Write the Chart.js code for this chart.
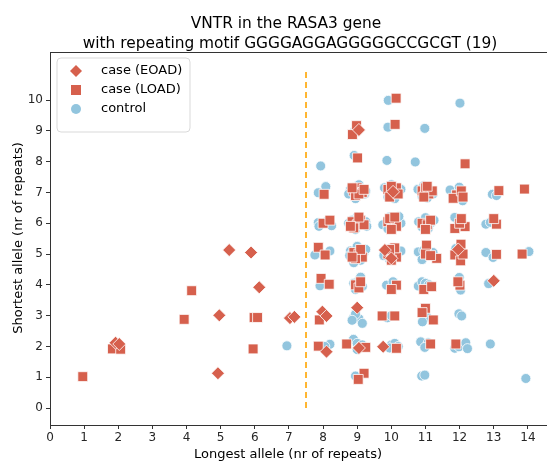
<!DOCTYPE html>
<html>
<head>
<meta charset="utf-8">
<script src="https://cdn.jsdelivr.net/npm/chart.js@4/dist/chart.umd.min.js"></script>
<style>
html,body{margin:0;padding:0;background:#fff;}
canvas{display:block;}
</style>
</head>
<body>
<canvas id="c" width="547" height="462"></canvas>
<script>
// ---- tick labels ----
const xTicks = [0,1,2,3,4,5,6,7,8,9,10,11,12,13,14];
const yTicks = [0,1,2,3,4,5,6,7,8,9,10];

// ---- series labels ----
const seriesLabels = ["case (EOAD)", "case (LOAD)", "control"];

// ---- case (EOAD): [longest, shortest] (jittered as in the figure) ----
const eoad = [
  [5.25,5.13],[5.89,5.05],[6.13,3.92],[4.96,3.01],[7.03,2.92],[7.16,2.96],
  [1.92,2.12],[2.03,2.08],[4.92,1.13],
  [7.98,3.13],[8.10,2.99],[8.10,1.83],
  [9.05,9.03],[9.00,3.26],[9.05,1.95],
  [9.81,5.13],[10.00,4.86],[9.76,1.99],[10.05,7.02],
  [11.96,5.15],[13.00,4.13]
];

// ---- case (LOAD) ----
const load = [
  [0.96,1.02],[1.83,1.92],[2.07,1.91],[3.93,2.88],[4.15,3.81],[5.98,2.94],[6.08,2.94],[5.95,1.92],
  [8.03,6.94],[8.00,6.00],[8.20,6.10],[7.86,5.22],[8.06,4.97],[7.94,4.21],[8.18,4.02],[7.89,2.86],[7.86,2.01],
  [8.98,9.17],[8.86,8.88],[9.01,8.12],
  [8.90,7.05],[9.00,7.15],[9.15,7.00],[8.95,6.90],[9.05,6.95],[9.20,7.10],[8.85,7.15],
  [8.85,6.05],[9.00,5.95],[9.10,6.10],[9.20,5.95],[8.90,5.85],[9.05,6.20],[8.80,5.90],
  [8.90,5.05],[9.05,5.00],[9.15,4.90],[8.95,4.85],[9.10,5.15],[8.85,4.90],
  [8.95,4.00],[9.05,3.90],[9.10,4.10],
  [8.69,2.08],[9.25,1.97],[9.20,1.13],[9.03,0.93],
  [10.14,10.06],[10.11,9.21],
  [9.90,7.10],[10.05,7.00],[10.15,7.15],[9.95,6.85],[10.20,6.95],[10.00,7.20],
  [9.90,6.05],[10.05,6.00],[10.15,5.90],[9.95,6.15],[10.10,6.20],[10.00,5.80],
  [9.90,5.00],[10.05,5.05],[10.15,4.90],[10.00,4.80],[10.10,5.20],[9.95,5.15],
  [10.15,3.99],[10.00,3.85],[9.73,2.99],[10.10,2.99],[10.15,1.94],
  [10.90,7.05],[11.00,7.15],[11.10,6.95],[11.20,7.05],[10.95,6.85],[11.05,7.20],
  [10.90,6.00],[11.05,5.95],[11.15,6.10],[11.00,5.80],
  [11.03,5.29],[11.33,4.86],[11.00,5.00],[11.15,4.95],
  [10.95,3.85],[11.18,3.94],[11.00,3.24],[11.23,2.86],[10.90,3.10],[11.15,2.08],
  [12.16,7.93],
  [11.91,6.92],[11.81,6.81],[12.05,7.05],[12.10,6.85],
  [11.86,5.83],[12.16,5.89],[12.00,6.00],[12.05,6.15],
  [12.04,5.32],[11.86,4.97],[12.03,4.78],[12.10,5.00],
  [12.01,3.99],[11.95,4.10],[11.89,2.08],
  [13.15,7.06],[13.08,5.97],[13.00,6.15],[13.08,4.99],
  [13.90,7.11],[13.83,5.00]
];

// ---- control ----
const control = [
  [6.94,2.02],
  [7.93,7.86],[8.08,7.19],[7.86,6.99],
  [7.86,6.02],[7.88,5.90],[8.10,6.05],[8.25,5.92],
  [7.96,5.02],[7.76,4.97],[8.20,5.10],[7.91,3.97],[8.20,2.07],[8.05,2.00],
  [8.91,8.98],[8.91,8.20],
  [8.80,7.10],[9.05,7.25],[9.22,6.95],[8.95,6.80],[9.25,7.05],[8.75,6.95],[9.10,7.12],
  [8.75,6.00],[9.00,6.20],[9.25,6.05],[8.95,5.80],[9.10,5.95],[8.85,6.10],[9.28,5.90],
  [8.80,5.10],[9.00,5.25],[9.20,5.05],[8.95,4.95],[9.10,4.80],[8.90,4.72],[9.25,5.15],[8.78,4.95],
  [8.90,4.05],[9.05,4.15],[9.15,3.95],[8.95,3.85],[9.10,4.25],
  [8.90,2.95],[9.05,2.90],[9.15,2.75],[8.95,3.05],[8.85,2.85],
  [8.89,2.23],[9.00,2.10],[9.10,2.00],[9.00,1.90],[9.15,2.05],[8.95,1.04],
  [9.91,9.99],[9.90,9.12],[9.87,8.04],
  [9.80,7.15],[10.00,7.25],[10.20,7.05],[9.90,6.85],[10.10,6.80],[10.28,7.10],[9.95,7.00],
  [9.75,5.95],[9.95,6.20],[10.10,6.10],[10.28,6.00],[9.90,5.82],[10.05,5.90],[10.22,6.22],
  [9.80,5.05],[10.00,5.20],[10.18,5.00],[9.95,4.82],[10.10,4.90],[10.28,5.10],[9.78,4.95],
  [9.86,3.99],[10.00,3.90],[10.05,4.10],[9.88,2.93],[10.00,3.00],
  [10.00,2.05],[10.10,2.10],[9.95,1.95],[10.20,2.00],
  [10.98,9.08],[10.70,7.99],
  [10.78,7.10],[10.95,7.22],[11.12,7.05],[10.90,6.88],[11.22,6.95],[11.05,6.82],
  [10.80,6.05],[11.00,6.18],[11.15,6.00],[10.90,5.88],[11.08,5.83],[11.25,6.10],
  [10.79,5.07],[10.95,5.12],[11.10,4.95],[10.90,4.82],[11.22,5.05],
  [10.79,3.96],[10.90,4.10],[11.00,4.05],[11.10,4.00],
  [10.95,3.00],[11.05,2.95],[10.91,2.80],
  [10.86,2.15],[11.08,2.12],[10.98,1.97],[10.89,1.04],[10.98,1.07],
  [12.01,9.90],
  [11.72,7.08],[11.99,7.17],[12.09,6.73],[11.95,6.90],
  [11.86,6.19],[11.95,5.95],[12.05,6.05],
  [11.89,5.18],[12.00,5.00],
  [11.99,4.24],[11.95,4.05],[12.03,3.83],[11.98,3.06],[12.06,2.99],
  [11.86,1.94],[11.98,1.99],[12.18,2.12],[12.23,1.93],
  [12.96,6.94],[13.08,6.90],[12.77,5.97],[12.90,6.03],
  [12.77,5.05],[12.98,4.89],[12.85,4.04],[12.90,2.08],
  [14.03,5.08],[13.94,0.96]
];

// ---- threshold line (x = 7.5) ----
const thresholdX = 7.5;
const thresholdY = [0, 11];

const RED = "#d6604d", BLUE = "#92c5de";
const toPts = a => a.map(p => ({x:p[0], y:p[1]}));

const overlay = {
  id: "overlay",
  afterDraw(chart) {
    const ctx = chart.ctx, ca = chart.chartArea;
    ctx.save();
    // top spine
    ctx.strokeStyle = "#333"; ctx.lineWidth = 1;
    ctx.beginPath(); ctx.moveTo(ca.left, ca.top + 0.5); ctx.lineTo(ca.right, ca.top + 0.5); ctx.stroke();
    // title
    ctx.fillStyle = "#000";
    ctx.font = "15.4px 'DejaVu Sans'";
    ctx.textAlign = "center"; ctx.textBaseline = "alphabetic";
    ctx.fillText("VNTR in the RASA3 gene", 286, 28);
    ctx.fillText("with repeating motif GGGGAGGAGGGGGCCGCGT (19)", 290, 48);
    // axis titles
    ctx.font = "13px 'DejaVu Sans'";
    ctx.fillText("Longest allele (nr of repeats)", 288, 458);
    ctx.save();
    ctx.translate(19, 238); ctx.rotate(-Math.PI/2);
    ctx.textBaseline = "middle";
    ctx.fillText("Shortest allele (nr of repeats)", 0, 0);
    ctx.restore();
    // legend
    const bx = 57, by = 58, bw = 133, bh = 74, r = 4;
    ctx.beginPath();
    ctx.moveTo(bx + r, by); ctx.lineTo(bx + bw - r, by); ctx.quadraticCurveTo(bx + bw, by, bx + bw, by + r);
    ctx.lineTo(bx + bw, by + bh - r); ctx.quadraticCurveTo(bx + bw, by + bh, bx + bw - r, by + bh);
    ctx.lineTo(bx + r, by + bh); ctx.quadraticCurveTo(bx, by + bh, bx, by + bh - r);
    ctx.lineTo(bx, by + r); ctx.quadraticCurveTo(bx, by, bx + r, by); ctx.closePath();
    ctx.fillStyle = "rgba(255,255,255,0.85)"; ctx.fill();
    ctx.strokeStyle = "#d9d9d9"; ctx.stroke();
    const rows = [71, 90, 109];
    ctx.font = "13px 'DejaVu Sans'"; ctx.textAlign = "left"; ctx.textBaseline = "middle";
    for (let i = 0; i < 3; i++) {
      const ds = chart.data.datasets[i];
      const cx = 76, cy = rows[i];
      ctx.fillStyle = ds.backgroundColor;
      ctx.beginPath();
      if (ds.pointStyle === "rectRot") {
        ctx.moveTo(cx, cy - 6); ctx.lineTo(cx + 6, cy); ctx.lineTo(cx, cy + 6); ctx.lineTo(cx - 6, cy); ctx.closePath();
      } else if (ds.pointStyle === "rect") {
        ctx.rect(cx - 5, cy - 5, 10, 10);
      } else {
        ctx.arc(cx, cy, 5, 0, Math.PI * 2);
      }
      ctx.fill();
      ctx.fillStyle = "#000";
      ctx.fillText(ds.label, 101, cy);
    }
    ctx.restore();
  }
};

const tickFix = vals => scale => { scale.ticks = vals.map(v => ({value: v})); };

new Chart(document.getElementById("c"), {
  type: "scatter",
  data: {
    datasets: [
      {label: seriesLabels[0], data: toPts(eoad), pointStyle: "rectRot", pointRadius: 6.5,
       backgroundColor: RED, borderColor: "#fff", borderWidth: 0.8, order: 0},
      {label: seriesLabels[1], data: toPts(load), pointStyle: "rect", pointRadius: 7,
       backgroundColor: RED, borderColor: "#fff", borderWidth: 0.8, order: 1},
      {label: seriesLabels[2], data: toPts(control), pointStyle: "circle", pointRadius: 5,
       backgroundColor: BLUE, borderColor: "#fff", borderWidth: 0.8, order: 2},
      {label: "threshold", data: thresholdY.map(y => ({x: thresholdX, y})), showLine: true,
       pointRadius: 0, borderColor: "#ffa500", borderWidth: 1.6, borderDash: [6, 4], order: 3}
    ]
  },
  options: {
    responsive: false,
    animation: false,
    devicePixelRatio: 1,
    layout: {autoPadding: false, padding: {top: 52, right: 0, left: 0, bottom: 0}},
    plugins: {legend: {display: false}, tooltip: {enabled: false}, title: {display: false}},
    scales: {
      x: {
        type: "linear", min: 0, max: 14.56,
        afterBuildTicks: tickFix(xTicks),
        afterFit: s => { s.height = 37; s.paddingRight = 0; s.paddingLeft = 0; },
        ticks: {includeBounds: false, autoSkip: false, maxRotation: 0, color: "#262626",
                font: {family: "DejaVu Sans", size: 12}, padding: 2},
        grid: {display: true, drawOnChartArea: false, drawTicks: true, tickLength: 4, color: "#333"},
        border: {display: true, color: "#333", width: 1}
      },
      y: {
        type: "linear", min: -0.55, max: 11.56,
        afterBuildTicks: tickFix(yTicks),
        afterFit: s => { s.width = 50; s.paddingTop = 0; s.paddingBottom = 0; },
        ticks: {includeBounds: false, autoSkip: false, color: "#262626",
                font: {family: "DejaVu Sans", size: 12}, padding: 3},
        grid: {display: true, drawOnChartArea: false, drawTicks: true, tickLength: 4, color: "#333"},
        border: {display: true, color: "#333", width: 1}
      }
    }
  },
  plugins: [overlay]
});
</script>
</body>
</html>
